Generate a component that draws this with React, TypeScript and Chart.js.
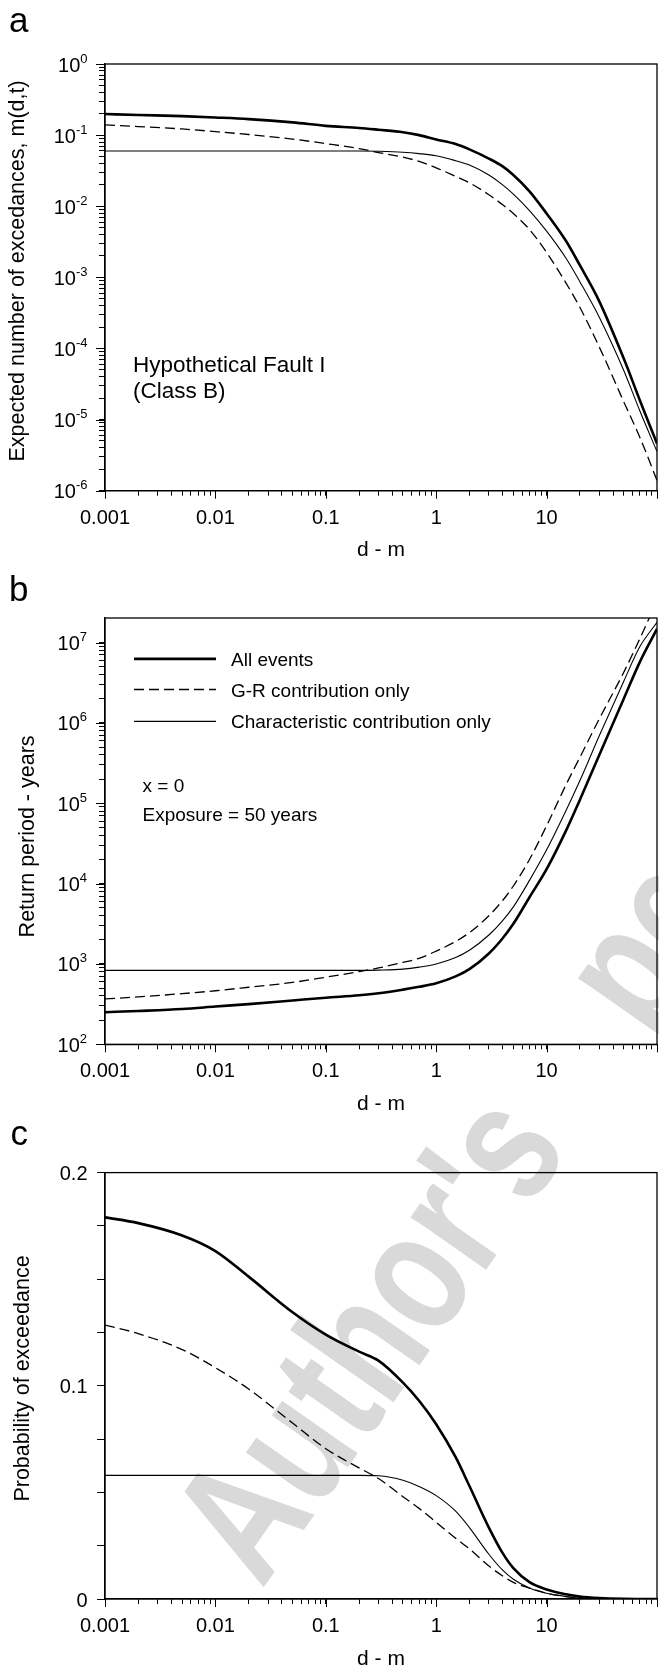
import React, { useEffect, useRef } from "react";
import { Chart, registerables } from "chart.js";

Chart.register(...registerables);

const FONT = '"Liberation Sans", Arial, Helvetica, sans-serif';
const W = 659;
const CH = 560;

// x values (d - m), shared by all three panels
const dm = [0.001, 0.002, 0.005, 0.01, 0.02, 0.05, 0.1, 0.2, 0.3, 0.5, 0.7, 1, 1.5, 2, 3, 4, 5, 7, 10, 15, 20, 30, 50, 70, 100];

const seriesNames = ["All events", "G-R contribution only", "Characteristic contribution only"];

// panel a: expected number of exceedances m(d,t)
const excAll = [0.198, 0.192, 0.185, 0.177, 0.168, 0.151, 0.135, 0.126, 0.119, 0.11, 0.1, 0.087, 0.075, 0.063, 0.0468, 0.0363, 0.0275, 0.0162, 0.0079, 0.00324, 0.00148, 0.00046, 0.000072, 0.0000186, 0.0000046];
const excGR = [0.139, 0.132, 0.122, 0.112, 0.102, 0.088, 0.0759, 0.0646, 0.0569, 0.049, 0.0427, 0.0347, 0.0263, 0.0214, 0.0145, 0.0105, 0.0079, 0.0047, 0.00224, 0.00083, 0.00038, 0.000105, 0.0000178, 0.0000056, 0.0000014];
const excChar = [0.0597, 0.0597, 0.0597, 0.0597, 0.0597, 0.0597, 0.0597, 0.0597, 0.0592, 0.0575, 0.055, 0.0513, 0.0437, 0.038, 0.0275, 0.02, 0.0148, 0.0087, 0.00447, 0.00186, 0.00087, 0.000275, 0.000049, 0.0000132, 0.00000355];

// panel b: return period (years)
const retAll = [251, 260, 275, 295, 316, 351, 380, 407, 431, 479, 519, 575, 700, 861, 1349, 2089, 3162, 6761, 15140, 45700, 110000, 398000, 2000000, 5750000, 14800000];
const retGR = [367, 389, 427, 464, 513, 589, 684, 803, 891, 1047, 1175, 1445, 1905, 2455, 3981, 6166, 9333, 19950, 52500, 170000, 371500, 1122000, 4266000, 11220000, 33100000];
const retChar = [832, 832, 832, 832, 832, 832, 832, 832, 838, 861, 912, 1000, 1202, 1479, 2291, 3467, 5129, 10960, 26300, 81300, 190500, 692000, 3300000, 8900000, 17800000];

// panel c: probability of exceedance
const probAll = [0.179, 0.1763, 0.1705, 0.1632, 0.1512, 0.1345, 0.124, 0.116, 0.1118, 0.1015, 0.093, 0.082, 0.0665, 0.053, 0.0335, 0.0215, 0.0145, 0.0079, 0.0045, 0.0022, 0.0011, 0.0004, 0.00006, 0.00002, 0.000005];
const probGR = [0.1285, 0.1245, 0.117, 0.1085, 0.0985, 0.0825, 0.0705, 0.0615, 0.0565, 0.048, 0.0425, 0.036, 0.0285, 0.0235, 0.0155, 0.0108, 0.0078, 0.0051, 0.0027, 0.0011, 0.0005, 0.00013, 0.00002, 0.000006, 0.0000015];
const probChar = [0.058, 0.058, 0.058, 0.058, 0.058, 0.058, 0.058, 0.058, 0.0578, 0.0557, 0.0528, 0.0485, 0.0412, 0.0335, 0.021, 0.0135, 0.0093, 0.0052, 0.0027, 0.0012, 0.0005, 0.00014, 0.00003, 0.00001, 0.000003];

// axes
const xDecades = [0.001, 0.01, 0.1, 1, 10, 100];
const xTickLabels = ["0.001", "0.01", "0.1", "1", "10"];
const excDecades = [1e-6, 1e-5, 1e-4, 1e-3, 1e-2, 1e-1, 1];
const excExponents = ["-6", "-5", "-4", "-3", "-2", "-1", "0"];
const retDecades = [1e2, 1e3, 1e4, 1e5, 1e6, 1e7];
const retExponents = ["2", "3", "4", "5", "6", "7"];
const probTickValues = [0, 0.025, 0.05, 0.075, 0.1, 0.125, 0.15, 0.175, 0.2];
const probLabelValues = [0, 0.1, 0.2];
const probLabels = ["0", "0.1", "0.2"];

const lineStyles = [
  { borderWidth: 2.6, borderDash: [] as number[] },
  { borderWidth: 1.3, borderDash: [10, 5] },
  { borderWidth: 1.1, borderDash: [] as number[] },
];

function minorLog(decades: number[]): number[] {
  const out: number[] = [];
  for (let i = 0; i < decades.length - 1; i++) {
    for (let k = 1; k <= 9; k++) out.push(Number((k * decades[i]).toPrecision(6)));
  }
  out.push(decades[decades.length - 1]);
  return out;
}

function datasets(values: number[][]) {
  return values.map((vals, i) => ({
    label: seriesNames[i],
    data: dm.map((x, j) => ({ x, y: vals[j] })),
    borderColor: "#000",
    borderWidth: lineStyles[i].borderWidth,
    borderDash: lineStyles[i].borderDash,
    pointRadius: 0,
    fill: false,
    cubicInterpolationMode: "monotone",
  }));
}

const px = (v: number) => Math.round(v) + 0.5;

function drawPow(ctx: CanvasRenderingContext2D, exp: string, xRight: number, y: number) {
  ctx.font = `20px ${FONT}`;
  const bw = ctx.measureText("10").width;
  ctx.font = `13px ${FONT}`;
  const ew = ctx.measureText(exp).width;
  const x0 = xRight - ew - bw;
  ctx.textAlign = "left";
  ctx.textBaseline = "alphabetic";
  ctx.font = `20px ${FONT}`;
  ctx.fillText("10", x0, y + 7.5);
  ctx.font = `13px ${FONT}`;
  ctx.fillText(exp, x0 + bw, y - 1.5);
}

function rotatedTitle(ctx: CanvasRenderingContext2D, text: string, xBase: number, yCenter: number) {
  ctx.save();
  ctx.translate(xBase, yCenter);
  ctx.rotate(-Math.PI / 2);
  ctx.font = `21.5px ${FONT}`;
  ctx.textAlign = "center";
  ctx.textBaseline = "alphabetic";
  ctx.fillText(text, 0, 0);
  ctx.restore();
}

type Spec = {
  values: number[][];
  yType: "logarithmic" | "linear";
  yMin: number;
  yMax: number;
  yTicks: number[];
  yTickLen: number;
  majorY: number[];
  padTop: number;
  padBottom: number;
  deco: (chart: any, ctx: CanvasRenderingContext2D) => void;
};

function buildConfig(p: Spec): any {
  const decoPlugin = {
    id: "deco",
    afterDraw(chart: any) {
      const { ctx, chartArea: a, scales } = chart;
      ctx.save();
      ctx.strokeStyle = "#000";
      ctx.fillStyle = "#000";
      ctx.setLineDash([]);
      ctx.lineWidth = 1.3;
      ctx.strokeRect(a.left, a.top, a.right - a.left, a.bottom - a.top);
      ctx.lineWidth = 1;
      ctx.beginPath();
      for (const v of xDecades) {
        const x = px(scales.x.getPixelForValue(v));
        ctx.moveTo(x, a.bottom);
        ctx.lineTo(x, a.bottom + 8);
      }
      for (const v of p.majorY) {
        const y = px(scales.y.getPixelForValue(v));
        ctx.moveTo(a.left - 9, y);
        ctx.lineTo(a.left, y);
      }
      ctx.stroke();
      ctx.font = `20px ${FONT}`;
      ctx.textAlign = "center";
      ctx.textBaseline = "alphabetic";
      xTickLabels.forEach((t, i) => {
        ctx.fillText(t, scales.x.getPixelForValue(xDecades[i]), a.bottom + 33);
      });
      ctx.font = `21px ${FONT}`;
      ctx.fillText("d - m", (a.left + a.right) / 2, a.bottom + 65.5);
      p.deco(chart, ctx);
      ctx.restore();
    },
  };
  return {
    type: "line",
    data: { datasets: datasets(p.values) },
    options: {
      responsive: false,
      maintainAspectRatio: false,
      animation: false,
      events: [],
      layout: { padding: { left: 95, right: 2, top: p.padTop, bottom: p.padBottom } },
      plugins: { legend: { display: false }, tooltip: { enabled: false }, title: { display: false } },
      scales: {
        x: {
          type: "logarithmic",
          position: "bottom",
          min: 0.001,
          max: 100,
          afterBuildTicks: (s: any) => {
            s.ticks = minorLog(xDecades).map((v) => ({ value: v }));
          },
          afterFit: (s: any) => {
            s.height = 10;
          },
          ticks: { display: false },
          grid: { drawOnChartArea: false, drawTicks: true, tickLength: 5, color: "#000", tickColor: "#000", lineWidth: 1 },
          border: { display: true, color: "#000", width: 1.3 },
        },
        y: {
          type: p.yType,
          position: "left",
          min: p.yMin,
          max: p.yMax,
          afterBuildTicks: (s: any) => {
            s.ticks = p.yTicks.map((v) => ({ value: v }));
          },
          afterFit: (s: any) => {
            s.width = 10;
          },
          ticks: { display: false },
          grid: { drawOnChartArea: false, drawTicks: true, tickLength: p.yTickLen, color: "#000", tickColor: "#000", lineWidth: 1 },
          border: { display: true, color: "#000", width: 1.3 },
        },
      },
    },
    plugins: [decoPlugin],
  };
}

const specA: Spec = {
  values: [excAll, excGR, excChar],
  yType: "logarithmic",
  yMin: 1e-6,
  yMax: 1,
  yTicks: minorLog(excDecades),
  yTickLen: 6,
  majorY: excDecades,
  padTop: 64,
  padBottom: CH - 490.7 - 10,
  deco: (chart, ctx) => {
    const y = chart.scales.y;
    excDecades.forEach((v, i) => drawPow(ctx, excExponents[i], 87.5, y.getPixelForValue(v)));
    rotatedTitle(ctx, "Expected number of excedances, m(d,t)", 23.5, 271);
    ctx.textAlign = "left";
    ctx.font = `35px ${FONT}`;
    ctx.fillText("a", 9, 31.7);
    ctx.font = `22.5px ${FONT}`;
    ctx.fillText("Hypothetical Fault I", 133, 372);
    ctx.fillText("(Class B)", 133, 398);
  },
};

const specB: Spec = {
  values: [retAll, retGR, retChar],
  yType: "logarithmic",
  yMin: 100,
  yMax: 2.02e7,
  yTicks: minorLog(retDecades),
  yTickLen: 6,
  majorY: retDecades,
  padTop: 64,
  padBottom: CH - 490.3 - 10,
  deco: (chart, ctx) => {
    const y = chart.scales.y;
    retDecades.forEach((v, i) => drawPow(ctx, retExponents[i], 87, y.getPixelForValue(v)));
    rotatedTitle(ctx, "Return period - years", 34, 282.4);
    ctx.textAlign = "left";
    ctx.font = `35px ${FONT}`;
    ctx.fillText("b", 9, 46.7);
    const ys = [104.9, 135.5, 167.4];
    chart.data.datasets.forEach((ds: any, i: number) => {
      ctx.save();
      ctx.lineWidth = ds.borderWidth;
      ctx.setLineDash(ds.borderDash || []);
      ctx.beginPath();
      ctx.moveTo(134, ys[i]);
      ctx.lineTo(216, ys[i]);
      ctx.stroke();
      ctx.restore();
      ctx.font = `19px ${FONT}`;
      ctx.fillText(ds.label, 231, ys[i] + 7);
    });
    ctx.font = `19px ${FONT}`;
    ctx.fillText("x = 0", 142.5, 237.6);
    ctx.fillText("Exposure = 50 years", 142.5, 266.5);
  },
};

const specC: Spec = {
  values: [probAll, probGR, probChar],
  yType: "linear",
  yMin: 0,
  yMax: 0.2,
  yTicks: probTickValues,
  yTickLen: 8,
  majorY: [],
  padTop: 63.6,
  padBottom: CH - 490 - 10,
  deco: (chart, ctx) => {
    const y = chart.scales.y;
    ctx.font = `20px ${FONT}`;
    ctx.textAlign = "right";
    ctx.textBaseline = "alphabetic";
    probLabelValues.forEach((v, i) => ctx.fillText(probLabels[i], 87.5, y.getPixelForValue(v) + 7.5));
    rotatedTitle(ctx, "Probability of exceedance", 29, 269.5);
    ctx.textAlign = "left";
    ctx.font = `35px ${FONT}`;
    ctx.fillText("c", 10.5, 36.4);
  },
};

function Panel({ spec, top }: { spec: Spec; top: number }) {
  const ref = useRef<HTMLCanvasElement>(null);
  useEffect(() => {
    const chart = new Chart(ref.current as HTMLCanvasElement, buildConfig(spec));
    return () => chart.destroy();
  }, [spec]);
  return (
    <canvas
      ref={ref}
      width={W}
      height={CH}
      style={{ position: "absolute", left: 0, top, width: W, height: CH, zIndex: 1 }}
    />
  );
}

export default function App() {
  const wmSize = 174;
  const baseOff = wmSize * 0.8465;
  return (
    <div style={{ position: "absolute", left: 0, top: 0, width: W, height: 1669, background: "#fff", overflow: "hidden" }}>
      <div
        style={{
          position: "absolute",
          left: 262,
          top: 1590 - baseOff,
          transformOrigin: `0px ${baseOff}px`,
          transform: "rotate(-55deg) scaleX(0.76)",
          font: `bold ${wmSize}px ${FONT}`,
          lineHeight: `${wmSize}px`,
          color: "#d9d9d9",
          whiteSpace: "nowrap",
          wordSpacing: "130px",
          zIndex: 0,
        }}
      >
        Author's personal copy
      </div>
      <Panel spec={specA} top={0} />
      <Panel spec={specB} top={554} />
      <Panel spec={specC} top={1109} />
    </div>
  );
}
